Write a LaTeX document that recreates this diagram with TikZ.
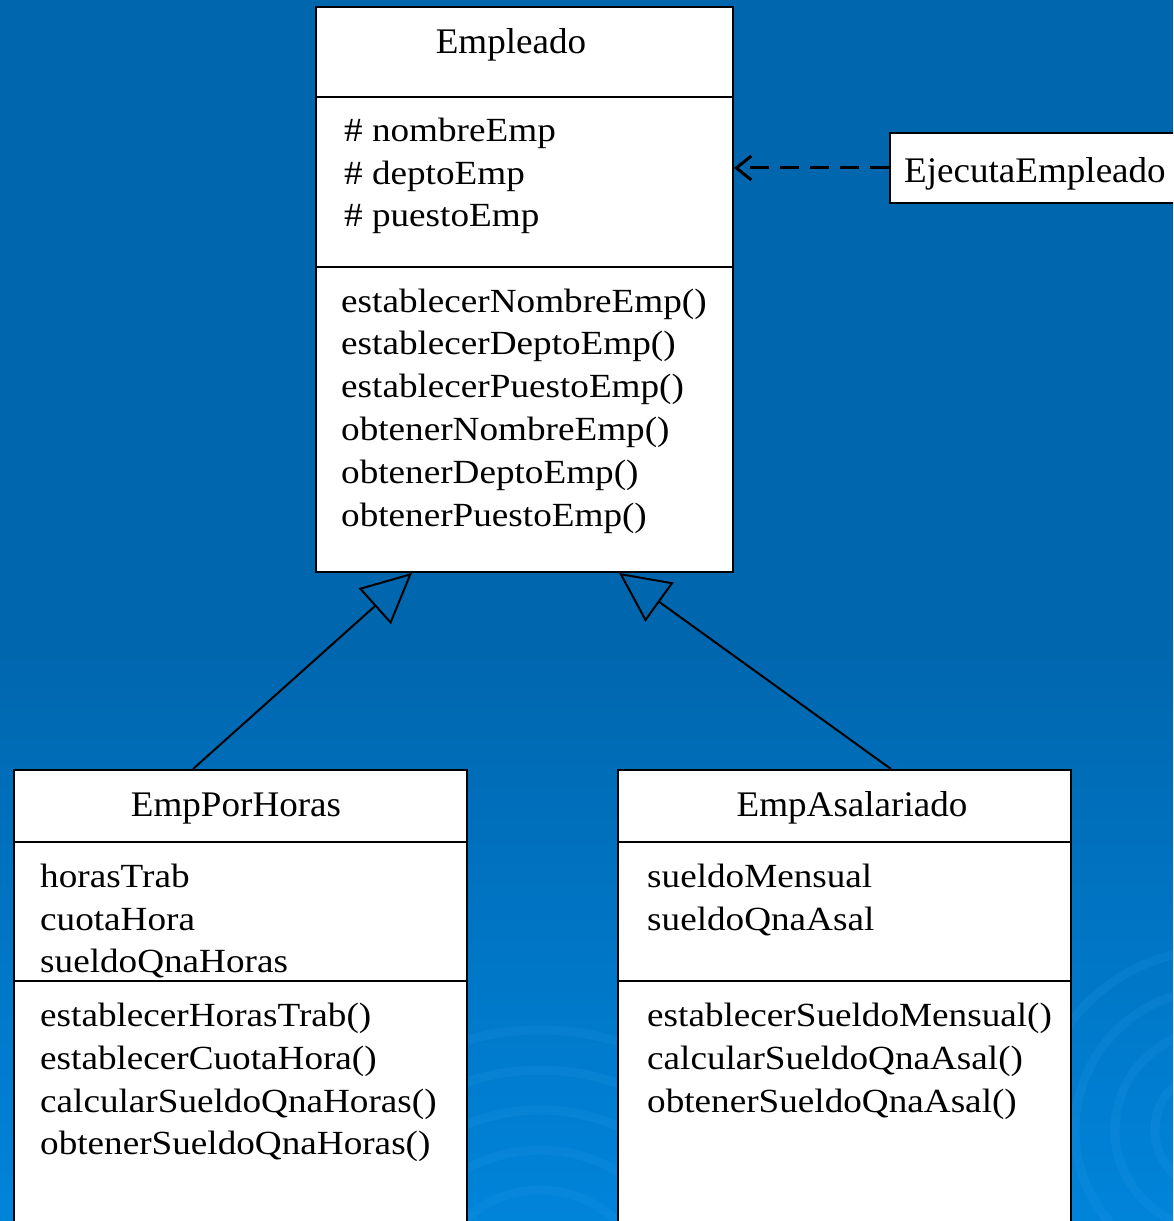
\documentclass[tikz,border=0pt]{standalone}
\usepackage{fontspec}
\setmainfont{Liberation Serif}
\newfontfamily\bodyfam{Liberation Serif}[FakeStretch=1.1]
\newfontfamily\titlefam{Liberation Serif}[FakeStretch=1.03]
\usetikzlibrary{arrows.meta,calc}
\definecolor{bgtop}{HTML}{0066AE}
\definecolor{bgbot}{HTML}{0084DA}
\definecolor{swirl}{HTML}{2A9BEA}
\newcommand\bodytext{\bodyfam\fontsize{33.8}{43}\selectfont}
\newcommand\titletext{\titlefam\fontsize{36}{43}\selectfont}
\begin{document}
\begin{tikzpicture}[x=1pt,y=-1pt,
  box/.style={draw=black,line width=1.9pt,fill=white,anchor=north west,inner sep=0pt},
  body/.style={anchor=base west,inner sep=0pt,font=\bodytext},
  ttl/.style={anchor=base,inner sep=0pt,font=\titletext},
  gen/.style={line width=2pt,-{Triangle[open,length=50pt,width=48pt,line width=2pt]}},
  dep/.style={line width=3pt,dash pattern=on 19pt off 11pt,-{Straight Barb[length=15pt,width=24pt,line width=3pt]}}
]
\clip (0,0) rectangle (1173,1221);
% background
\fill[bgtop] (0,0) rectangle (1173,1221);
\shade[top color=bgtop,bottom color=bgbot] (0,640) rectangle (1173,1221);
\begin{scope}[draw=swirl,opacity=0.18,line width=9pt]
  \foreach \r in {70,110,150,190,230,270}{\draw (540,1300) circle (\r);}
  \foreach \r in {60,100,140,180}{\draw (1215,1130) circle (\r);}
\end{scope}

% Empleado
\node[box,minimum width=417pt,minimum height=90pt] (empT) at (315,6) {};
\node[box,minimum width=417pt,minimum height=170pt] (empA) at (315,96) {};
\node[box,minimum width=417pt,minimum height=305pt] (empM) at (315,266) {};
\node[ttl] (empN) at (511,53) {Empleado};
\node[body] (a1) at (344,141.5) {\# nombreEmp};
\node[body] (a2) at (344,184) {\# deptoEmp};
\node[body] (a3) at (344,226.5) {\# puestoEmp};
\node[body] (m1) at (341,312) {establecerNombreEmp()};
\node[body] (m2) at (341,354.5) {establecerDeptoEmp()};
\node[body] (m3) at (341,397.5) {establecerPuestoEmp()};
\node[body] (m4) at (341,440) {obtenerNombreEmp()};
\node[body] (m5) at (341,483) {obtenerDeptoEmp()};
\node[body] (m6) at (341,526) {obtenerPuestoEmp()};

% EjecutaEmpleado
\node[box,minimum width=320pt,minimum height=70pt] (eje) at (889,132) {};
\node[ttl,anchor=base west] (ejeN) at (904,182) {EjecutaEmpleado};

% EmpPorHoras
\node[box,minimum width=453pt,minimum height=72pt] (horT) at (13,769) {};
\node[box,minimum width=453pt,minimum height=139pt] (horA) at (13,841) {};
\node[box,minimum width=453pt,minimum height=270pt] (horM) at (13,980) {};
\node[ttl] (horN) at (236,816) {EmpPorHoras};
\node[body] (h1) at (40,887) {horasTrab};
\node[body] (h2) at (40,930) {cuotaHora};
\node[body] (h3) at (40,972) {sueldoQnaHoras};
\node[body] (hm1) at (40,1026.5) {establecerHorasTrab()};
\node[body] (hm2) at (40,1069) {establecerCuotaHora()};
\node[body] (hm3) at (40,1112) {calcularSueldoQnaHoras()};
\node[body] (hm4) at (40,1154.5) {obtenerSueldoQnaHoras()};

% EmpAsalariado
\node[box,minimum width=453pt,minimum height=72pt] (asaT) at (617,769) {};
\node[box,minimum width=453pt,minimum height=139pt] (asaA) at (617,841) {};
\node[box,minimum width=453pt,minimum height=270pt] (asaM) at (617,980) {};
\node[ttl] (asaN) at (852,816) {EmpAsalariado};
\node[body] (s1) at (647,887) {sueldoMensual};
\node[body] (s2) at (647,930) {sueldoQnaAsal};
\node[body] (sm1) at (647,1026.5) {establecerSueldoMensual()};
\node[body] (sm2) at (647,1069) {calcularSueldoQnaAsal()};
\node[body] (sm3) at (647,1112) {obtenerSueldoQnaAsal()};

% connectors
\draw[gen] ($(horT.north west)+(180,0)$) -- ($(empM.south west)+(97,0)$);
\draw[gen] ($(asaT.north west)+(274,0)$) -- ($(empM.south west)+(304,0)$);
\draw[dep] (eje.west) -- (eje.west -| empA.east);
\end{tikzpicture}
\end{document}
